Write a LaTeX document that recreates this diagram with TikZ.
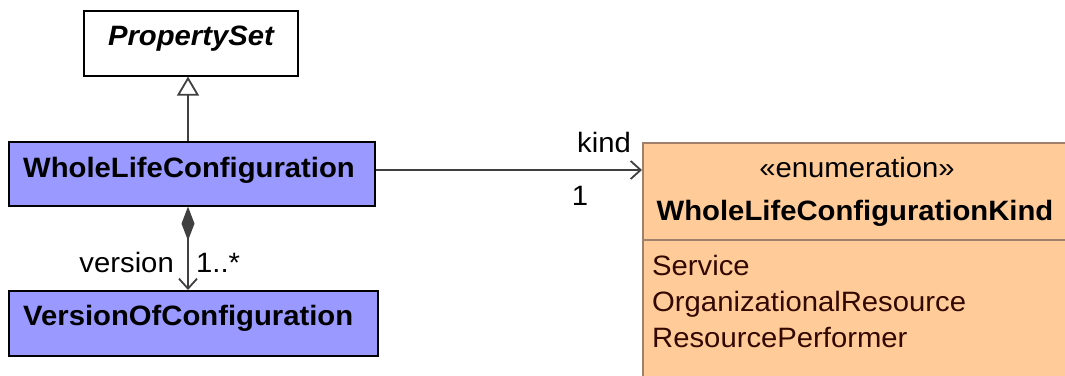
\documentclass[tikz,border=0pt]{standalone}
\usepackage{fontspec}
\setmainfont{Liberation Sans}[FakeStretch=1.045]
\usetikzlibrary{arrows.meta}
\definecolor{clsblue}{HTML}{9999FF}
\definecolor{enumorange}{HTML}{FFCC99}
\definecolor{enumborder}{HTML}{A0806A}
\definecolor{linegray}{HTML}{404040}
\definecolor{itembrown}{HTML}{330800}
\newcommand\dgfont{\fontsize{28}{34}\selectfont}
\begin{document}
\begin{tikzpicture}[x=1pt,y=-1pt,
  umlbox/.style={draw=black, line width=1.6pt, anchor=north west, inner sep=0pt},
  enumbox/.style={draw=enumborder, fill=enumorange, line width=1.6pt, anchor=north west, inner sep=0pt},
  conn/.style={draw=linegray, line width=1.8pt},
  txt/.style={font=\dgfont, inner sep=0pt, anchor=base},
  btxt/.style={font=\dgfont\bfseries, inner sep=0pt, anchor=base},
  itemtxt/.style={font=\dgfont, text=itembrown, inner sep=0pt, anchor=base west}
]
\useasboundingbox (0,0) rectangle (1065,375);
\clip (0,0) rectangle (1065,375);
% classes
\node[umlbox, fill=white, minimum width=214pt, minimum height=65pt] (ps) at (83,10) {};
\node[btxt, font=\dgfont\bfseries\itshape] (pst) at (191,45) {PropertySet};
\node[umlbox, fill=clsblue, minimum width=366pt, minimum height=64pt] (wlc) at (8,141) {};
\node[btxt, anchor=base west] (wlct) at (23,177) {WholeLifeConfiguration};
\node[umlbox, fill=clsblue, minimum width=369pt, minimum height=65pt] (voc) at (8,290) {};
\node[btxt, anchor=base west] (voct) at (23,325) {VersionOfConfiguration};
% enumeration
\node[enumbox, minimum width=440pt, minimum height=260pt] (en) at (642,142) {};
\node[txt] (ent) at (857,177) {«enumeration»};
\node[btxt] (enn) at (855,220) {WholeLifeConfigurationKind};
\coordinate (sep) at (0,240);
\draw[draw=enumborder, line width=1.6pt] (en.west |- sep) -- (en.east |- sep);
\node[itemtxt] (i1) at (652,275) {Service};
\node[itemtxt] (i2) at (652,311) {OrganizationalResource};
\node[itemtxt] (i3) at (652,347) {ResourcePerformer};
% connectors
\coordinate (ax) at (188,0);
\coordinate (ay) at (0,170);
\draw[conn, -{Triangle[open, length=19pt, width=22pt, fill=white]}] (ax |- wlc.north) -- (ax |- ps.south);
\draw[conn, {Diamond[length=34pt, width=13pt, fill=linegray]}-{Straight Barb[length=10pt, width=18pt]}] (ax |- wlc.south) -- (ax |- voc.north);
\draw[conn, -{Straight Barb[length=10pt, width=18pt]}] (wlc.east |- ay) -- (en.west |- ay);
% labels
\node[txt] (lkind) at (604,152) {kind};
\node[txt] (lone) at (580,205) {1};
\node[txt, anchor=base east] (lver) at (174,272) {version};
\node[txt, anchor=base west] (lmul) at (196,272) {1..*};
\end{tikzpicture}
\end{document}
